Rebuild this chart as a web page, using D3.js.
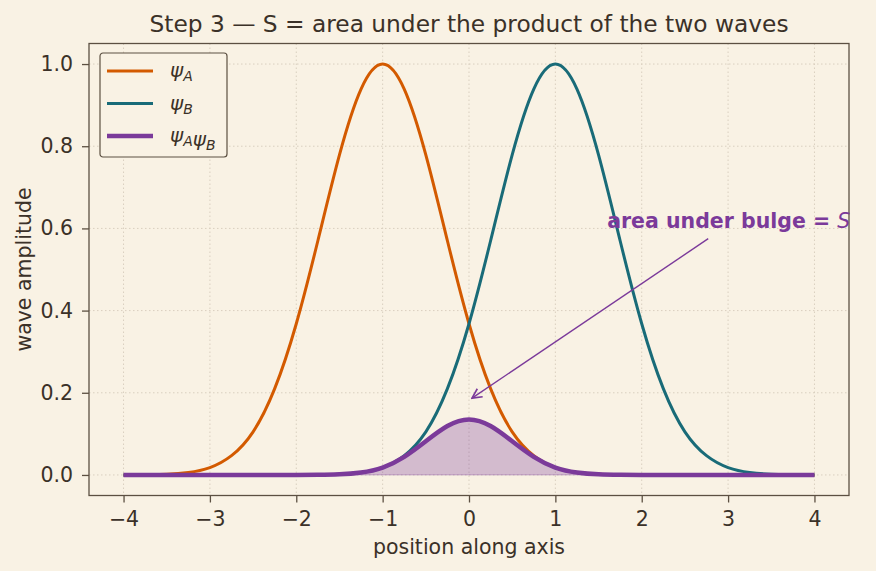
<!DOCTYPE html>
<html>
<head>
<meta charset="utf-8">
<script src="https://cdn.jsdelivr.net/npm/d3@7"></script>
<style>
  body { margin: 0; background: #f9f2e4; }
  svg { display: block; font-family: "DejaVu Sans", sans-serif; }
</style>
</head>
<body>
<svg width="876" height="571"></svg>
<script>
// positions along the axis
const xs = [-4, -3.75, -3.5, -3.25, -3, -2.75, -2.5, -2.25, -2, -1.75, -1.5, -1.25, -1,
  -0.75, -0.5, -0.25, 0, 0.25, 0.5, 0.75, 1, 1.25, 1.5, 1.75, 2, 2.25, 2.5, 2.75, 3,
  3.25, 3.5, 3.75, 4];

const psiA = [0, 0.001, 0.002, 0.006, 0.018, 0.047, 0.105, 0.21, 0.368, 0.57, 0.779, 0.939, 1,
  0.939, 0.779, 0.57, 0.368, 0.21, 0.105, 0.047, 0.018, 0.006, 0.002, 0.001, 0, 0, 0, 0, 0,
  0, 0, 0, 0];

const psiB = [0, 0, 0, 0, 0, 0, 0, 0, 0, 0.001, 0.002, 0.006, 0.018, 0.047, 0.105, 0.21, 0.368,
  0.57, 0.779, 0.939, 1, 0.939, 0.779, 0.57, 0.368, 0.21, 0.105, 0.047, 0.018, 0.006, 0.002,
  0.001, 0];

const product = [0, 0, 0, 0, 0, 0, 0, 0, 0, 0.0003, 0.0015, 0.006, 0.018, 0.044, 0.082, 0.119,
  0.135, 0.119, 0.082, 0.044, 0.018, 0.006, 0.0015, 0.0003, 0, 0, 0, 0, 0, 0, 0, 0, 0];

const xTicks = [-4, -3, -2, -1, 0, 1, 2, 3, 4];
const yTicks = [0, 0.2, 0.4, 0.6, 0.8, 1.0];

const ink = "#3b3128";
const spine = "#5c5042";

const svg = d3.select("svg");
const pLeft = 89, pRight = 849, pTop = 43.5, pBottom = 495.5;

let x = d3.scaleLinear().domain([-4.4, 4.4]).range([pLeft, pRight]);
let y = d3.scaleLinear().domain([-0.05, 1.05]).range([pBottom, pTop]);

// grid
svg.append("g").selectAll("line").data(xTicks).join("line")
  .attr("x1", d => x(d)).attr("x2", d => x(d))
  .attr("y1", pTop).attr("y2", pBottom)
  .attr("stroke", "#d9cfbf").attr("stroke-width", 1).attr("stroke-dasharray", "1.5,2.5");
svg.append("g").selectAll("line").data(yTicks).join("line")
  .attr("x1", pLeft).attr("x2", pRight)
  .attr("y1", d => y(d)).attr("y2", d => y(d))
  .attr("stroke", "#d9cfbf").attr("stroke-width", 1).attr("stroke-dasharray", "1.5,2.5");

const pts = ys => xs.map((v, i) => [v, ys[i]]);

// shaded area under the product
let area = d3.area().x(d => x(d[0])).y0(y(0)).y1(d => y(d[1])).curve(d3.curveNatural);
svg.append("path").datum(pts(product)).attr("d", area)
  .attr("fill", "#7b3a9a").attr("fill-opacity", 0.3)
  .attr("stroke", "#7b3a9a").attr("stroke-opacity", 0.3).attr("stroke-width", 1);

let line = d3.line().x(d => x(d[0])).y(d => y(d[1])).curve(d3.curveNatural);
const series = [
  { values: psiA, color: "#d35a00", width: 3 },
  { values: psiB, color: "#196b78", width: 3 },
  { values: product, color: "#7b3a9a", width: 4.5 }
];
svg.append("g").selectAll("path").data(series).join("path")
  .attr("d", d => line(pts(d.values)))
  .attr("fill", "none")
  .attr("stroke", d => d.color)
  .attr("stroke-width", d => d.width)
  .attr("stroke-linejoin", "round");

// frame
svg.append("rect").attr("x", pLeft).attr("y", pTop)
  .attr("width", pRight - pLeft).attr("height", pBottom - pTop)
  .attr("fill", "none").attr("stroke", spine).attr("stroke-width", 1.3);

// axes
let xAxis = d3.axisBottom(x).tickValues(xTicks).tickSize(7).tickPadding(8.5)
  .tickFormat(d => d < 0 ? "\u2212" + Math.abs(d) : d);
let gx = svg.append("g").attr("transform", `translate(0,${pBottom})`).call(xAxis);
let yAxis = d3.axisLeft(y).tickValues(yTicks).tickSize(7).tickPadding(9).tickFormat(d3.format(".1f"));
let gy = svg.append("g").attr("transform", `translate(${pLeft},0)`).call(yAxis);
[gx, gy].forEach(g => {
  g.select(".domain").remove();
  g.selectAll("line").attr("stroke", spine).attr("stroke-width", 1.3);
  g.selectAll("text").attr("fill", ink).style("font-size", "20.5px")
    .style("font-family", "DejaVu Sans, sans-serif");
});

// labels
svg.append("text").attr("x", (pLeft + pRight) / 2).attr("y", 32)
  .attr("text-anchor", "middle").attr("fill", ink).style("font-size", "23.3px")
  .text("Step 3 \u2014 S = area under the product of the two waves");
svg.append("text").attr("x", (pLeft + pRight) / 2).attr("y", 554)
  .attr("text-anchor", "middle").attr("fill", ink).style("font-size", "20.5px")
  .text("position along axis");
svg.append("text").attr("transform", `translate(31,${(pTop + pBottom) / 2}) rotate(-90)`)
  .attr("text-anchor", "middle").attr("fill", ink).style("font-size", "20.5px")
  .text("wave amplitude");

// annotation
const purple = "#7b3a9a";
svg.append("defs").append("marker").attr("id", "arr")
  .attr("viewBox", "0 0 10 10").attr("refX", 9).attr("refY", 5)
  .attr("markerWidth", 12).attr("markerHeight", 12).attr("markerUnits", "userSpaceOnUse")
  .attr("orient", "auto")
  .append("path").attr("d", "M1,1 L9,5 L1,9").attr("fill", "none")
  .attr("stroke", purple).attr("stroke-width", 1.4);
svg.append("line")
  .attr("x1", x(2.77)).attr("y1", y(0.575))
  .attr("x2", x(0.035)).attr("y2", y(0.187))
  .attr("stroke", purple).attr("stroke-width", 1.4).attr("marker-end", "url(#arr)");
let ann = svg.append("text").attr("x", x(1.6)).attr("y", y(0.6))
  .attr("fill", purple).style("font-size", "20.5px").style("font-weight", "bold");
ann.append("tspan").text("area under bulge = ");
ann.append("tspan").style("font-weight", "normal").style("font-style", "italic").text("S");

// legend
let lg = svg.append("g").attr("transform", "translate(100,53)");
lg.append("rect").attr("width", 127).attr("height", 104).attr("rx", 3)
  .attr("fill", "#f9f2e4").attr("stroke", spine).attr("stroke-width", 1.2);
const legendItems = [
  { parts: [["\u03c8", "A"]], color: "#d35a00", width: 3 },
  { parts: [["\u03c8", "B"]], color: "#196b78", width: 3 },
  { parts: [["\u03c8", "A"], ["\u03c8", "B"]], color: "#7b3a9a", width: 4.5 }
];
legendItems.forEach((it, i) => {
  const cy = 18 + i * 32.5;
  lg.append("line").attr("x1", 7).attr("x2", 53).attr("y1", cy).attr("y2", cy)
    .attr("stroke", it.color).attr("stroke-width", it.width);
  let t = lg.append("text").attr("x", 70).attr("y", cy + 6).attr("fill", ink)
    .style("font-size", "20px").style("font-style", "italic");
  it.parts.forEach(p => {
    t.append("tspan").attr("dy", 0).text(p[0]);
    t.append("tspan").style("font-size", "14px").attr("dy", 4).text(p[1]);
    t.append("tspan").attr("dy", -4).text("");
  });
});
</script>
</body>
</html>
